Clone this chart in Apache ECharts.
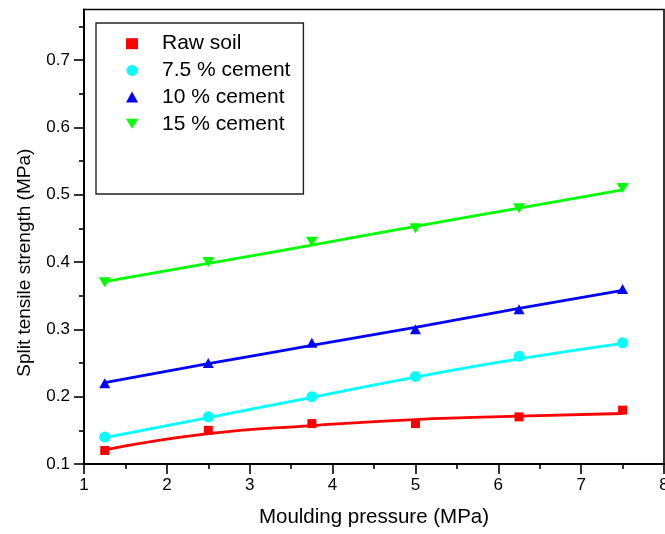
<!DOCTYPE html>
<html>
<head>
<meta charset="utf-8">
<script src="https://cdn.jsdelivr.net/npm/echarts@6/dist/echarts.min.js"></script>
<style>
  html, body { margin: 0; padding: 0; background: #fff; }
  #chart { width: 665px; height: 534px; }
</style>
</head>
<body>
<div id="chart"></div>
<script>
// Moulding pressure (MPa) at which the specimens were prepared
const pressure = [1.25, 2.5, 3.75, 5, 6.25, 7.5];

// Measured split tensile strength (MPa)
const rawSoil  = [0.12, 0.15, 0.16, 0.16, 0.17, 0.18];
const cement75 = [0.14, 0.17, 0.20, 0.23, 0.26, 0.28];
const cement10 = [0.22, 0.25, 0.28, 0.30, 0.33, 0.36];
const cement15 = [0.37, 0.40, 0.43, 0.45, 0.48, 0.51];

// Fitted trend curves, evaluated at the same pressures
const rawSoilFit  = [0.121, 0.145, 0.157, 0.166, 0.171, 0.175];
const cement75Fit = [0.139, 0.169, 0.199, 0.229, 0.256, 0.279];
const cement10Fit = [0.221, 0.249, 0.276, 0.303, 0.331, 0.358];
const cement15Fit = [0.371, 0.398, 0.425, 0.453, 0.480, 0.507];

// Axis ticks
const yTicks      = [0.1, 0.2, 0.3, 0.4, 0.5, 0.6, 0.7];
const yMinorTicks = [0.15, 0.25, 0.35, 0.45, 0.55, 0.65, 0.75];

const seriesNames  = ['Raw soil', '7.5 % cement', '10 % cement', '15 % cement'];
const seriesColors = ['#ff0000', '#00ffff', '#0000ff', '#00ff00'];
const measured = [rawSoil, cement75, cement10, cement15];
const fitted   = [rawSoilFit, cement75Fit, cement10Fit, cement15Fit];
const symbols  = ['rect', 'circle', 'triangle', 'path://M0,0L12,0L6,10Z'];
const symbolSizes = [9, 11, [11, 10], [12, 10]];

const FONT = 'Liberation Sans, Arial, Helvetica, sans-serif';
const pairs = ys => pressure.map((x, i) => [x, ys[i]]);

const fitSeries = fitted.map((ys, k) => ({
  name: seriesNames[k] + ' fit',
  type: 'line',
  data: pairs(ys),
  smooth: true,
  showSymbol: false,
  silent: true,
  z: 2,
  lineStyle: { color: seriesColors[k], width: 2.8 },
  itemStyle: { color: seriesColors[k] }
}));

const pointSeries = measured.map((ys, k) => ({
  name: seriesNames[k],
  type: 'scatter',
  data: pairs(ys),
  symbol: symbols[k],
  symbolSize: symbolSizes[k],
  z: 3,
  itemStyle: { color: seriesColors[k], opacity: 1 }
}));

const chart = echarts.init(document.getElementById('chart'), null, { renderer: 'canvas' });

chart.setOption({
  animation: false,
  backgroundColor: '#fff',
  textStyle: { fontFamily: FONT },
  grid: {
    left: 84, right: 1, top: 9.5, bottom: 70,
    outerBoundsMode: 'none',
    containLabel: false,
    show: true, borderColor: '#000', borderWidth: 1.6, backgroundColor: 'transparent'
  },
  legend: {
    data: seriesNames,
    orient: 'vertical',
    left: 96, top: 23,
    padding: [10.2, 13, 59.7, 30],
    itemGap: 5.7,
    itemWidth: 12, itemHeight: 11,
    borderColor: '#222', borderWidth: 1.4,
    backgroundColor: '#fff',
    selectedMode: false,
    textStyle: { fontFamily: FONT, fontSize: 21, color: '#000', padding: [0, 0, 0, 19] }
  },
  xAxis: {
    type: 'value',
    min: 1, max: 8, interval: 1,
    name: 'Moulding pressure (MPa)',
    nameLocation: 'middle',
    nameGap: 43,
    nameTextStyle: { fontFamily: FONT, fontSize: 20.5, color: '#000' },
    axisLine: { show: true, onZero: false, lineStyle: { color: '#000', width: 2 } },
    axisTick: { show: true, inside: false, length: 10, lineStyle: { color: '#000', width: 1.6 } },
    minorTick: { show: true, splitNumber: 2, length: 5, lineStyle: { color: '#000', width: 1.6 } },
    axisLabel: { fontFamily: FONT, fontSize: 17, color: '#000', margin: 13 },
    splitLine: { show: false },
    minorSplitLine: { show: false }
  },
  yAxis: [
    {
      type: 'value',
      position: 'left',
      min: 0.1, max: 0.775,
      name: 'Split tensile strength (MPa)',
      nameLocation: 'middle',
      nameGap: 50,
      nameRotate: 90,
      nameTextStyle: { fontFamily: FONT, fontSize: 19, color: '#000', padding: [0, 52, 0, 0] },
      axisLine: { show: true, onZero: false, lineStyle: { color: '#000', width: 2 } },
      axisTick: { show: true, inside: false, length: 10, customValues: yTicks,
                  lineStyle: { color: '#000', width: 1.6 } },
      axisLabel: { fontFamily: FONT, fontSize: 17, color: '#000', margin: 14,
                   customValues: yTicks, formatter: v => v.toFixed(1) },
      splitLine: { show: false }
    },
    {
      // minor ticks between the labelled values
      type: 'value',
      position: 'left',
      min: 0.1, max: 0.775,
      axisLine: { show: false },
      axisTick: { show: true, inside: false, length: 5, customValues: yMinorTicks,
                  lineStyle: { color: '#000', width: 1.6 } },
      axisLabel: { show: false },
      splitLine: { show: false }
    }
  ],
  series: [...fitSeries, ...pointSeries]
});
</script>
</body>
</html>
